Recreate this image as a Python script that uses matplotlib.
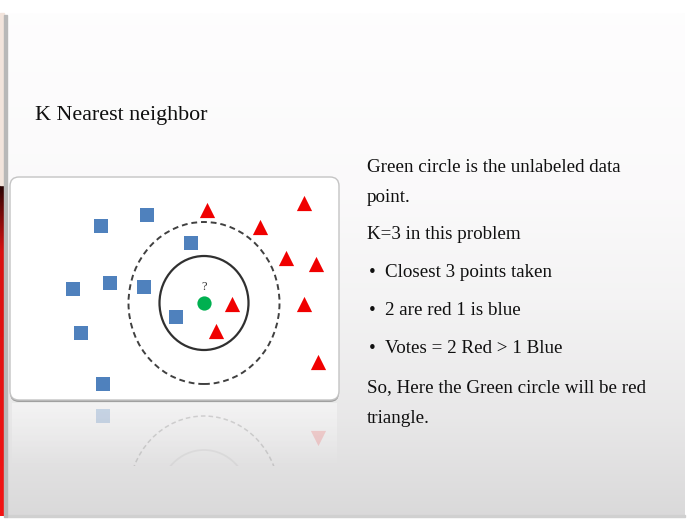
import matplotlib
matplotlib.use("Agg")
import matplotlib.pyplot as plt
import numpy as np
from matplotlib.patches import Ellipse, FancyBboxPatch, Rectangle

W, H = 696, 522

# points of the toy example (box units, 1 unit = 1 px, origin bottom-left of box)
blue_x = [91, 137, 181, 100, 63, 134, 166, 71, 93]
blue_y = [174, 185, 157, 117, 111, 113, 83, 67, 16]
red_x = [197, 294, 250, 276, 306, 222, 294, 206, 308]
red_y = [190, 197, 173, 142, 136, 96, 96, 69, 38]
query = (194, 97)
inner_wh = (89, 94)
outer_wh = (151, 162)

title = "K Nearest neighbor"
body_lines = [
    ("Green circle is the unlabeled data", False, 172),
    ("point.", False, 202),
    ("K=3 in this problem", False, 239),
    ("Closest 3 points taken", True, 277),
    ("2 are red 1 is blue", True, 315),
    ("Votes = 2 Red > 1 Blue", True, 353),
    ("So, Here the Green circle will be red", False, 392),
    ("triangle.", False, 423),
]

SERIF = ["Liberation Serif", "DejaVu Serif"]
TXT = "#101010"
BLUE = "#4f81bd"
RED = "#f00000"
GREEN = "#00b050"

fig = plt.figure(figsize=(W / 100, H / 100), dpi=100)
fig.patch.set_facecolor("white")

# slide background in pixel space
bg = fig.add_axes([0, 0, 1, 1])
bg.set_xlim(0, W)
bg.set_ylim(H, 0)
bg.axis("off")

ys = np.array([13, 200, 300, 420, 516])
vs = np.array([254, 250, 244, 232, 218]) / 255
rows = np.interp(np.linspace(13, 516, 300), ys, vs)
grad = np.stack([rows, rows * 0.997, rows * 1.0], axis=-1)[:, None, :]
bg.imshow(grad, extent=(7, 685, 516, 13), aspect="auto", interpolation="bilinear", zorder=0)
bg.add_patch(Rectangle((7, 515), 678, 2, color="#d0d0d0", zorder=1))

# left window edge: red strip and grey line
red_col = np.interp(np.linspace(0, 1, 200), [0, 0.05, 0.2, 1], [0.15, 0.35, 0.85, 0.95])
strip = np.stack([red_col, red_col * 0.08, red_col * 0.08], axis=-1)[:, None, :]
bg.imshow(strip, extent=(0, 3.5, 516, 185), aspect="auto", zorder=1)
bg.add_patch(Rectangle((0, 13), 3.5, 172, color="#f2e4dc", zorder=1))
bg.add_patch(Rectangle((4, 15), 3, 502, color="#b8b8b8", zorder=1))

# diagram box with shadow
bg.add_patch(FancyBboxPatch((10, 179), 329, 223, boxstyle="round,pad=0,rounding_size=9",
                            fc="#a0a0a0", ec="none", zorder=2))
bg.add_patch(FancyBboxPatch((10, 177), 329, 223, boxstyle="round,pad=0,rounding_size=9",
                            fc="white", ec="#c4c4c4", lw=1.0, zorder=3))

# faint, fading reflection of the box
fade = np.ones((100, 1, 4))
fade[:, 0, 3] = np.linspace(0.45, 0.0, 100)
bg.imshow(fade, extent=(12, 337, 468, 403), aspect="auto", interpolation="bilinear", zorder=2)

# the diagram itself
ax = fig.add_axes([10 / W, (H - 400) / H, 329 / W, 223 / H])
ax.set_xlim(0, 329)
ax.set_ylim(0, 223)
ax.axis("off")
ax.patch.set_alpha(0)

ax.add_patch(Ellipse(query, *outer_wh, fill=False, ec="#404040", lw=1.4, ls=(0, (3, 2))))
ax.add_patch(Ellipse(query, *inner_wh, fill=False, ec="#303030", lw=1.6))
ax.scatter(blue_x, blue_y, marker="s", s=105, c=BLUE, linewidths=0, zorder=3)
ax.scatter(red_x, red_y, marker="^", s=120, c=RED, linewidths=0, zorder=3)
ax.scatter([query[0]], [query[1]], marker="o", s=105, c=GREEN, linewidths=0, zorder=3)
ax.text(query[0], query[1] + 16, "?", ha="center", va="center", fontsize=9,
        family=SERIF, color="#333333")

# mirrored reflection under the box
ref = fig.add_axes([10 / W, (H - 466) / H, 329 / W, 66 / H])
ref.set_xlim(0, 329)
ref.set_ylim(-66, 0)
ref.axis("off")
ref.patch.set_alpha(0)
ref.add_patch(Ellipse((query[0], -query[1]), *outer_wh, fill=False, ec="#909090",
                      lw=1.1, ls=(0, (3, 2)), alpha=0.35))
ref.add_patch(Ellipse((query[0], -query[1]), *inner_wh, fill=False, ec="#a0a0a0",
                      lw=1.3, alpha=0.15))
for x, y in zip(blue_x, blue_y):
    if y < 66:
        ref.scatter([x], [-y], marker="s", s=105, c=BLUE, linewidths=0, alpha=0.35 * (1 - y / 66))
for x, y in zip(red_x, red_y):
    if y < 66:
        ref.scatter([x], [-y], marker="v", s=120, c=RED, linewidths=0, alpha=0.35 * (1 - y / 66))

# slide texts
fig.text(35 / W, 1 - 120 / H, title, fontsize=15.8, family=SERIF, color=TXT, va="baseline")
for txt, bullet, base in body_lines:
    y = 1 - base / H
    if bullet:
        fig.text(369 / W, y, "\u2022", fontsize=13.7, family=SERIF, color=TXT, va="baseline")
        fig.text(385 / W, y, txt, fontsize=13.7, family=SERIF, color=TXT, va="baseline")
    else:
        fig.text(367 / W, y, txt, fontsize=13.7, family=SERIF, color=TXT, va="baseline")

fig.savefig("out.png", dpi=100)
